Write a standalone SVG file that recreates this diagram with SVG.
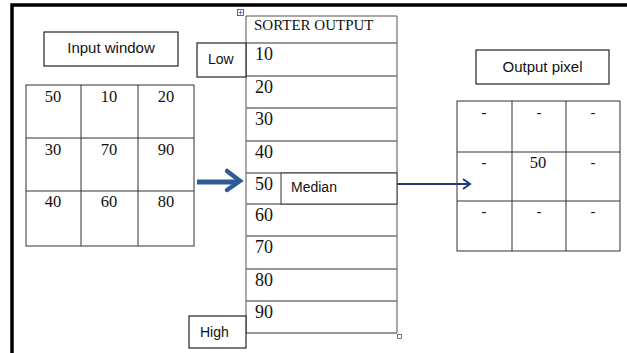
<svg xmlns="http://www.w3.org/2000/svg" width="627" height="353" viewBox="0 0 627 353">
<style>
.box{fill:#fff;stroke:#222;stroke-width:1.2}
.grid{fill:none;stroke:#333;stroke-width:1}
.row{stroke:#777;stroke-width:1.6}
.sans{font-family:"Liberation Sans",Arial,sans-serif;fill:#111}
.serif{font-family:"Liberation Serif","Times New Roman",serif;fill:#111}
.num{font-size:16.5px;text-anchor:middle}
.snum{font-size:18px}
.dash{font-size:15px;text-anchor:middle}
</style>
<defs>
<marker id="navyHead" markerWidth="10" markerHeight="12" refX="8" refY="6" orient="auto" markerUnits="userSpaceOnUse">
<path d="M1,1 L8,6 L1,11" fill="none" stroke="#1F3A7A" stroke-width="2"/>
</marker>
</defs>
<rect width="627" height="353" fill="#fff"/>
<!-- frame -->
<path d="M12,353 L12,5 L627,5" fill="none" stroke="#000" stroke-width="3.5"/>

<g id="input-label">
<rect class="box" x="44" y="32" width="134" height="34"/>
<text class="sans" x="111" y="53" font-size="15" text-anchor="middle">Input window</text>
</g>

<g id="input-grid">
<rect class="grid" x="26" y="85" width="168" height="161"/>
<path class="grid" d="M81,85 V246 M138,85 V246 M26,138 H194 M26,191 H194"/>
<text class="serif num" x="53" y="102">50</text>
<text class="serif num" x="109" y="102">10</text>
<text class="serif num" x="166" y="102">20</text>
<text class="serif num" x="53" y="155">30</text>
<text class="serif num" x="109" y="155">70</text>
<text class="serif num" x="166" y="155">90</text>
<text class="serif num" x="53" y="207">40</text>
<text class="serif num" x="109" y="207">60</text>
<text class="serif num" x="166" y="207">80</text>
</g>

<g id="sorter">
<rect x="237.5" y="9.5" width="6" height="6" fill="#fff" stroke="#667" stroke-width="1"/>
<path d="M240.5,10.5 V14.5 M238.5,12.5 H242.5" stroke="#4466aa" stroke-width="0.8"/>
<path d="M246,16 V333 M397,16 V333 M246,16 H397" fill="none" stroke="#555" stroke-width="1"/>
<path class="row" d="M246,43 H397 M246,76 H397 M246,108 H397 M246,141 H397 M246,173 H397 M246,204 H397 M246,236 H397 M246,269 H397 M246,301 H397 M246,333 H397"/>
<rect x="397.5" y="334.5" width="4" height="4" fill="#fff" stroke="#555" stroke-width="0.8"/>
<text class="serif" x="254" y="30" font-size="15">SORTER OUTPUT</text>
<text class="serif snum" x="255" y="60">10</text>
<text class="serif snum" x="255" y="93">20</text>
<text class="serif snum" x="255" y="125">30</text>
<text class="serif snum" x="255" y="158">40</text>
<text class="serif snum" x="255" y="190">50</text>
<text class="serif snum" x="255" y="221">60</text>
<text class="serif snum" x="255" y="253">70</text>
<text class="serif snum" x="255" y="286">80</text>
<text class="serif snum" x="255" y="318">90</text>
</g>

<g id="median">
<rect x="281" y="173" width="116" height="31" fill="#fff" stroke="#333" stroke-width="1"/>
<text class="sans" x="291" y="192" font-size="14">Median</text>
</g>

<g id="low">
<rect class="box" x="197" y="43" width="49" height="34"/>
<text class="sans" x="208" y="64" font-size="14">Low</text>
</g>

<g id="high">
<rect class="box" x="189" y="316" width="57" height="32"/>
<text class="sans" x="200" y="337" font-size="14">High</text>
</g>

<g id="output-label">
<rect class="box" x="476" y="50" width="133" height="34"/>
<text class="sans" x="542.5" y="72" font-size="15" text-anchor="middle">Output pixel</text>
</g>

<g id="output-grid">
<rect class="grid" x="457" y="101" width="163" height="150"/>
<path class="grid" d="M512,101 V251 M566,101 V251 M457,152 H620 M457,201 H620"/>
<text class="sans dash" x="484" y="118">-</text>
<text class="sans dash" x="539" y="118">-</text>
<text class="sans dash" x="593" y="118">-</text>
<text class="sans dash" x="484" y="168">-</text>
<text class="serif num" x="538" y="168">50</text>
<text class="sans dash" x="593" y="168">-</text>
<text class="sans dash" x="484" y="217">-</text>
<text class="sans dash" x="539" y="217">-</text>
<text class="sans dash" x="593" y="217">-</text>
</g>

<g id="connectors">
<path d="M197,182 H237" stroke="#2E5B96" stroke-width="5" fill="none"/>
<path d="M227,171 L240,181 L227,190" stroke="#2E5B96" stroke-width="4.5" fill="none" stroke-linejoin="miter" stroke-linecap="round"/>
<path d="M397,184 H470" stroke="#1F3A7A" stroke-width="2" fill="none" marker-end="url(#navyHead)"/>
</g>
</svg>
